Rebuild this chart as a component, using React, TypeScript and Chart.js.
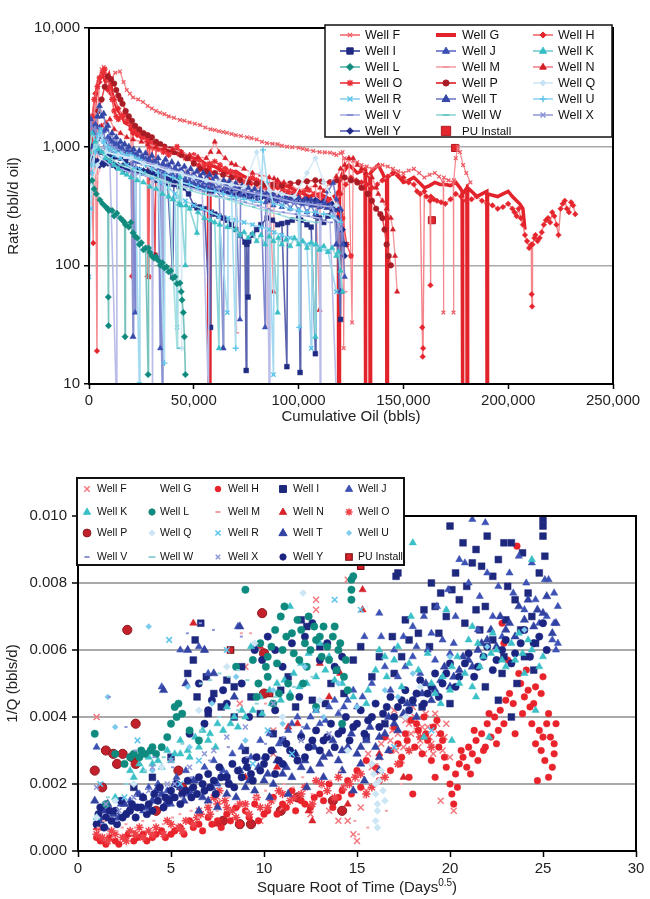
import React, { useEffect, useRef } from 'react';
import { Chart, registerables } from 'chart.js';
Chart.register(...registerables);

type P = [number, number];

// ---------------- TOP CHART DATA (Cumulative Oil, bbls  vs  Rate, bbl/d oil) ----------------
const rateTicks = [10, 100, 1000, 10000];
const cumMax = 250000;
const cumStep = 50000;

const topL: P[] = [[1500,520],[2500,440],[3500,400],[5200,356],[6500,330],[8000,310],[9000,300],[9200,54],[9300,31],[9400,290],[11000,290],[12000,260],[13300,275],[15000,250],[16000,240],[17000,230],[17200,25],[17400,220],[19000,210],[20000,230],[21000,188],[22000,175],[23000,170],[24000,150],[25000,155],[26000,135],[27000,140],[28200,12],[28400,140],[29000,129],[30000,120],[31000,115],[32000,118],[33000,110],[34000,100],[35000,105],[36000,95],[37000,97],[38000,88],[39000,90],[40000,78],[41000,80],[42000,70],[43400,71],[44000,60],[44400,51],[45000,40],[45500,25],[46000,12]];
const topK: P[] = [[0,900],[1500,1300],[3000,1100],[4500,950],[6000,900],[8000,800],[10000,750],[12000,700],[14000,650],[16000,600],[18000,580],[20000,550],[23000,520],[26000,500],[29000,460],[32000,440],[35000,400],[38000,380],[40000,360],[43000,330],[43400,550],[44000,320],[46000,100],[46300,320],[48000,300],[51500,188],[52000,280],[55000,250],[58000,240],[60000,230],[62000,20],[62300,220],[66000,210],[70000,200],[72000,180],[74000,190],[76000,170],[78000,185],[80000,160],[82000,180],[84000,150],[86000,175],[88000,160],[90000,40],[90300,170],[92000,150],[94000,165],[96000,145],[98000,170],[100000,150],[102000,160],[104000,140],[106000,155],[108000,25],[108300,150],[110000,135],[112000,145],[114000,130],[116000,140],[118000,120],[119000,130],[120000,90],[121000,60]];
const topW: P[] = [[0,700],[3000,1100],[6000,900],[10000,800],[15000,700],[20000,650],[26000,600],[32000,550],[38000,500],[42000,20],[42300,480],[48000,430],[54000,400],[60000,380],[66000,360],[72000,330],[78000,310],[84000,290],[90000,270],[96000,250],[102000,240],[108000,230]];
const topQ: P[] = [[0,400],[4000,700],[8000,900],[14000,850],[20000,800],[26000,720],[32000,680],[38000,620],[44000,600],[44200,20],[44400,580],[50000,550],[56000,520],[62000,500],[68000,480],[74000,460],[80000,900],[82000,600],[86000,430],[92000,400],[98000,380],[104000,600],[108000,800],[112000,500],[118000,320]];
const topU: P[] = [[0,300],[1500,600],[3000,900],[5000,1300],[7000,1100],[9000,1000],[11000,950],[13000,900],[15000,880],[18000,850],[20000,850],[22000,800],[24000,780],[27000,700],[30000,650],[33000,600],[36000,15],[36300,580],[40000,550],[44000,500],[48000,480],[52000,450],[56000,430],[60000,420],[64000,400],[68000,380],[70000,20],[70300,370],[74000,360],[78000,350],[82000,340],[83000,940],[85000,500],[88000,330],[92000,320],[96000,300],[100000,290],[100300,30],[100600,285],[104000,280],[108000,280],[112000,270],[116000,260],[120000,230]];
const topR: P[] = [[0,80],[1000,300],[2000,700],[3000,1000],[4000,1200],[5500,1400],[7000,1100],[9000,900],[12000,850],[15000,800],[18000,700],[22000,650],[24000,10],[24300,640],[26000,600],[30000,550],[34000,500],[38000,450],[41000,400],[42000,30],[42300,380],[46000,350],[50000,320],[54000,300],[58000,280],[62000,260],[66000,40],[66300,250],[70000,240],[74000,230],[78000,220],[82000,210],[86000,200],[88000,12],[88300,190],[92000,180],[96000,170],[100000,160],[104000,150],[106000,20],[106300,150],[110000,140],[114000,130],[118000,60]];
const topV: P[] = [[0,600],[3000,900],[6000,800],[10000,700],[13000,8],[13300,680],[15000,650],[20000,600],[25000,580],[30000,550],[30300,8],[30600,540],[36000,500],[42000,480],[48000,450],[54000,420],[57000,8],[57300,400],[62000,380],[68000,360],[74000,340],[80000,320],[85000,300],[86000,8],[86300,290],[92000,280],[98000,270],[104000,260],[110000,250],[110300,8],[110600,240],[115000,230],[118000,8]];
const topX: P[] = [[0,900],[4000,1000],[8000,950],[12000,900],[16000,850],[20000,800],[26000,750],[32000,700],[38000,650],[44000,600],[50000,560],[56000,520],[62000,480],[68000,450],[74000,420],[80000,400],[86000,380],[92000,360],[98000,340],[104000,330],[110000,320],[116000,310],[120000,200]];
const topJ: P[] = [[0,1100],[1000,1700],[2000,1300],[3000,1550],[4000,1150],[5000,1450],[6000,1200],[7000,1350],[8000,1050],[9000,1200],[10000,950],[11000,1100],[12000,900],[13000,1050],[14000,880],[15500,980],[17000,850],[18500,930],[20000,800],[21000,880],[22000,40],[22300,760],[23000,860],[24000,740],[25000,820],[26000,720],[27000,790],[28000,700],[29000,770],[30000,690],[31000,750],[32000,660],[33000,720],[34000,20],[34300,650],[35000,700],[36000,620],[37000,680],[38000,600],[39000,650],[40000,580],[41000,640],[42000,560],[43000,620],[44000,550],[45000,600],[46000,530],[47000,580],[48000,510],[49000,560],[50000,490],[51000,540],[52000,480],[53000,520],[54000,460],[55000,500],[56000,450],[57000,490],[58000,440],[59000,480],[60000,430],[62000,470],[64000,420],[66000,450],[68000,400],[70000,440],[72000,35],[72300,390],[74000,420],[76000,370],[78000,400],[80000,350],[82000,390],[84000,30],[84300,340],[86000,370],[88000,320],[90000,360],[92000,310],[94000,350],[96000,300],[98000,340],[100000,290],[102000,330],[104000,280],[106000,320],[108000,270],[110000,310],[112000,330],[114000,420],[116500,494],[118000,360],[120000,300],[121000,150],[122000,80]];
const topT: P[] = [[0,500],[1000,800],[2000,1000],[3000,1500],[4000,1800],[5000,2200],[6000,1800],[7000,1900],[8000,1400],[9000,1500],[10000,1150],[11000,1300],[12000,1050],[13000,1200],[14000,1000],[15000,1100],[16000,950],[17000,1050],[18000,900],[19000,1000],[20000,880],[21000,25],[21300,950],[22500,850],[24000,920],[25500,820],[27000,880],[28500,780],[30000,840],[31500,740],[33000,800],[35000,8],[35300,720],[36500,780],[38000,690],[39500,740],[41000,660],[42500,710],[44000,630],[45500,680],[47000,600],[48500,650],[50000,580],[51500,620],[53000,560],[54500,600],[56000,540],[57500,580],[59000,520],[60500,560],[62000,500],[64000,20],[64300,520],[65500,470],[67000,510],[68500,460],[70000,490],[71500,440],[73000,470],[74500,420],[76000,450],[77500,410],[79000,440],[80500,400],[82000,430],[83500,390],[85000,410],[86500,370],[88000,400],[89500,360],[91000,390],[92500,355],[94000,380],[95500,350],[97000,375],[98500,340],[100000,370],[101500,335],[103000,360],[104500,330],[106000,355],[107500,320],[109000,345],[110500,315],[112000,335],[113500,305],[115000,320],[117000,290],[118000,150],[119000,240],[120000,60]];
const topI: P[] = [[0,1000],[3000,950],[5000,900],[7500,880],[10000,850],[12500,820],[15000,800],[17500,750],[20000,700],[22000,650],[24000,620],[26000,610],[27700,600],[30000,550],[32500,520],[35000,500],[37500,490],[40000,80],[40500,480],[43000,460],[45000,450],[47500,400],[50000,320],[51500,305],[53000,310],[55000,300],[58000,30],[58300,280],[60000,270],[62000,260],[64000,250],[66000,240],[68000,220],[70000,200],[72000,180],[74400,157],[75000,13],[75300,150],[75900,54],[76200,160],[78000,180],[80000,200],[82000,220],[85000,250],[87500,240],[90000,220],[92000,225],[94400,14],[94700,230],[97000,240],[100000,250],[100700,12.5],[101000,240],[104000,220],[106000,210],[108000,18],[108300,260],[110000,250],[112000,230],[114000,260],[116000,300],[118000,250],[120000,35],[120300,200],[122000,150]];
const topY: P[] = [[0,820],[1000,760],[2000,790],[3000,730],[4000,760],[5000,690],[6000,730],[7000,700],[8000,760],[9000,720],[10000,770],[11000,700],[12000,720],[13000,670],[14000,700],[15000,660],[16000,690],[17000,640],[18000,670],[19000,630],[20000,660],[21000,620],[22000,650],[23000,610],[24000,640],[25000,600],[26000,630],[27000,590],[28000,620],[29000,580],[30000,610],[31000,570],[32000,600],[33000,560],[34000,590],[35000,550],[36000,575],[37000,540],[38000,560],[39000,520],[40000,545],[41000,510],[42000,535],[43000,500],[44000,525],[45000,495],[46000,510],[47000,480],[48000,500],[49000,465],[50000,485],[51000,455],[52000,470],[53000,445],[54000,460],[55000,435],[56000,450],[57000,425],[58000,445],[59000,420],[60000,440],[62000,415],[64000,430],[66000,405],[68000,420],[70000,395],[72000,410],[74000,385],[76000,400],[78000,375],[80000,390],[82000,368],[84000,380],[86000,355],[88000,370],[90000,350],[92000,365],[94000,345],[96000,362],[98000,348],[100000,360],[102000,345],[104000,358],[106000,342],[108000,356],[110000,335],[112000,345],[114000,320],[116000,330],[118000,300],[120000,290],[121000,200],[122000,120]];
const topM: P[] = [[0,300],[3000,500],[6000,700],[10000,900],[15000,850],[20000,800],[25000,750],[30000,700],[35000,680],[40000,650],[45000,620],[50000,600],[55000,580],[60000,550],[65000,520],[70000,500],[70200,27],[70400,480],[75000,470],[80000,450],[85000,420],[85200,30],[85400,420],[90000,400],[95000,380],[100000,365],[105000,350],[110000,335],[115000,320],[120000,200],[122000,60]];
const topN: P[] = [[500,600],[2000,900],[4000,1200],[6000,1500],[8000,1600],[10000,1700],[12000,1400],[15000,1300],[18000,1200],[21000,1150],[25000,1100],[28000,1050],[32000,1000],[36000,980],[40000,950],[44000,900],[48000,850],[52000,820],[56000,800],[58000,900],[60000,1100],[62000,900],[65000,800],[68000,720],[70000,700],[74000,650],[78000,600],[82000,580],[86000,550],[88000,60],[88300,540],[90000,520],[93000,500],[96000,480],[100000,430],[104000,450],[108000,470],[110000,42],[110300,450],[112000,420],[115000,500],[118000,560],[120000,650],[122000,700],[124000,800],[126000,800],[128000,700],[130000,650],[132000,600],[135000,550],[137000,450],[138000,400],[140000,350],[142000,300],[144000,250],[145000,200],[146000,120],[147000,60]];
const topP: P[] = [[0,700],[1500,1000],[3000,1500],[4500,2000],[6000,2500],[7500,3200],[9000,3900],[10500,3700],[12000,3400],[13000,3000],[14000,2700],[15000,2500],[16000,2300],[17500,2000],[19000,1800],[20500,1650],[22000,1500],[24000,1400],[26000,1300],[28000,1250],[30000,1200],[31500,122],[32000,1100],[34000,1050],[36000,1000],[38500,950],[41000,900],[44000,850],[47000,800],[50000,720],[53000,650],[56000,620],[60000,600],[64000,580],[68000,550],[72000,520],[76000,500],[80000,490],[84000,480],[88000,475],[92000,470],[96000,490],[100000,500],[104000,510],[108000,520],[111000,510],[115000,500],[118000,520],[122000,550],[125000,520],[128000,500],[130000,450],[133000,400],[135000,350],[137000,300],[139000,270],[140000,250],[141000,200],[142000,150],[143000,120],[144000,100]];
const topO: P[] = [[0,1000],[1500,1800],[2500,2500],[4000,3200],[5000,3800],[6500,4200],[7500,4500],[8500,3900],[10000,3200],[11000,2500],[12000,2000],[13000,1800],[14000,1700],[15500,1800],[17000,1900],[18500,1700],[20000,1500],[22000,1400],[24000,1300],[26000,1200],[28000,1100],[28500,80],[29000,1000],[31000,980],[33000,950],[35500,900],[38000,850],[40000,900],[42000,1000],[44000,900],[46000,800],[48000,820],[50000,850],[52500,780],[55000,700],[57500,720],[60000,750],[62500,700],[65000,650],[67500,620],[70000,600],[72000,550],[74000,500],[76000,520],[78000,550],[80000,520],[82000,500],[84000,470],[86000,450],[88000,470],[90000,500],[92500,450],[95000,420],[97500,410],[100000,400],[102500,420],[105000,430],[107500,400],[110000,380],[112000,360],[114000,350],[116000,320],[118000,300],[120000,270],[121000,250],[123000,150],[125000,120]];
const topH: P[] = [[1000,1200],[2000,154],[2500,1500],[3000,2800],[3800,19],[4200,2000],[5000,3500],[6000,3900],[7000,4200],[8000,3600],[9000,3000],[10500,2800],[12000,2500],[14000,2100],[16000,1800],[18000,1600],[20000,1400],[20500,81],[21000,1300],[23000,1250],[25000,1200],[27700,1100],[27900,81],[28100,1100],[30000,1050],[32500,1000],[35000,950],[37500,920],[40000,900],[42500,870],[45000,850],[47500,800],[50000,750],[52500,700],[55000,650],[57500,620],[60000,600],[62500,640],[65000,650],[67500,600],[70000,560],[72500,530],[75000,500],[77500,490],[80000,480],[82500,450],[85000,430],[87500,440],[90000,450],[92500,420],[95000,400],[97500,390],[100000,380],[102500,360],[105000,350],[107500,340],[110000,330],[112500,325],[115000,320],[117500,350],[120000,400],[122500,480],[125000,550],[127500,520],[130000,500],[132500,480],[135000,450],[137500,480],[140000,520],[142500,560],[145000,600],[147500,570],[150000,550],[152500,500],[155000,480],[156500,420],[158000,400],[159000,30],[159200,17],[159400,20],[160000,420],[161000,380],[162700,350],[162900,68],[163100,380],[164500,360],[166000,350],[168000,340],[170000,330],[172500,360],[175000,400],[177500,380],[180000,350],[182500,360],[185000,380],[187500,350],[190000,330],[192500,320],[195000,300],[197500,310],[200000,330],[202000,300],[203000,280],[204000,260],[205000,300],[206000,250],[207000,220],[208000,180],[209000,160],[210000,140],[211000,150],[211200,57],[211400,45],[211600,150],[212500,170],[213000,180],[214000,160],[215000,170],[216000,190],[217000,220],[218000,240],[219000,250],[220000,230],[221000,280],[222000,260],[223000,220],[224000,180],[225000,300],[226000,330],[227000,350],[228000,300],[229000,280],[230000,340],[231000,320],[232000,270]];
const topF: P[] = [[0,700],[1500,1400],[3000,2500],[4500,3500],[6000,4500],[7000,4700],[8000,4000],[9500,3600],[11000,3800],[12500,4200],[14800,4300],[16500,3500],[18000,3000],[19500,2800],[21000,2600],[23500,2500],[25800,2380],[28000,2200],[30000,2100],[32000,2000],[33900,1930],[36000,1880],[38000,1800],[40500,1750],[43400,1680],[45500,1650],[48000,1600],[50500,1560],[53000,1520],[55500,1450],[58000,1400],[60000,1380],[62000,1350],[64000,1330],[65800,1310],[68000,1280],[70000,1250],[72500,1230],[75400,1200],[77500,1180],[80000,1150],[82500,1100],[84900,1070],[87500,1060],[90000,1050],[92000,1020],[94500,1000],[97000,990],[100000,980],[102000,960],[104000,940],[107000,920],[110000,900],[112500,895],[115000,890],[117000,870],[118000,850],[120000,880],[121000,900],[121500,20],[122000,800],[124000,780],[125500,33],[126000,760],[128000,740],[130000,700],[132500,680],[135000,650],[137500,680],[140000,700],[142500,680],[145000,650],[147500,620],[150000,600],[152500,630],[155000,650],[157500,600],[160000,550],[162500,580],[165000,600],[167000,560],[169000,500],[169100,40],[169300,550],[171500,520],[173800,500],[173900,40],[174100,520],[175000,800],[176000,1000],[177000,900],[178500,700],[180000,600],[182000,500]];
const topG: P[] = [[0,600],[1000,1000],[2000,1600],[3000,2500],[4000,3200],[5000,3800],[6000,4100],[6500,4300],[7000,4000],[8000,3500],[9000,3800],[9500,4000],[10500,3300],[11000,2800],[12000,2500],[13000,2200],[14000,2000],[15000,1900],[16000,1800],[17000,1600],[18500,1550],[20000,1500],[21500,1400],[23000,1300],[24500,1250],[26000,1200],[28000,1150],[30000,1100],[32000,1080],[34000,1050],[36000,980],[38000,900],[40000,920],[42000,950],[44000,900],[46000,850],[48000,820],[50000,800],[52000,780],[54000,750],[55500,720],[57000,700],[57200,8],[57500,8],[57700,700],[60000,680],[62000,650],[64000,620],[66000,600],[68000,610],[70000,620],[72500,580],[75000,550],[77500,540],[80000,520],[82500,500],[85000,480],[87500,490],[90000,500],[92500,480],[95000,460],[97500,440],[100000,420],[102500,400],[105000,380],[107500,390],[110000,400],[112500,380],[115000,360],[117000,380],[119000,420],[119100,8],[119400,8],[119500,500],[121000,600],[122500,650],[124000,700],[126000,650],[128000,600],[130000,620],[131700,650],[131800,8],[132000,8],[132100,600],[133000,580],[134000,550],[134100,8],[134300,8],[134400,600],[136000,650],[138000,700],[140000,600],[142000,500],[142100,8],[142300,8],[142400,550],[144000,580],[146000,600],[148000,550],[150000,500],[152500,520],[155000,550],[157500,500],[160000,450],[162500,470],[165000,500],[167500,480],[170000,480],[172500,470],[175000,500],[177000,450],[178000,420],[178100,8],[178300,8],[178400,400],[179500,430],[180300,450],[180400,8],[180600,8],[180700,450],[182500,420],[185000,380],[187500,400],[189800,420],[189900,8],[190100,8],[190200,400],[192500,390],[195000,380],[197500,400],[200000,420],[202000,380],[204000,350],[205500,330],[207000,300],[208000,200]];
const topPU: P[] = [[110700,335],[119800,163],[163600,240],[174600,975]];

// ---------------- BOTTOM CHART DATA (sqrt time vs 1/Q) ----------------
const sqrtTimeMax = 30;
const sqrtTimeStep = 5;
const invQMax = 0.01;
const invQStep = 0.002;

const botF: P[] = [[1,.0040],[8.7,.0044],[9,.0055],[10.5,.0036],[10.5,.0029],[12.8,.0075],[12.8,.0072],[14.5,.0081],[15.5,.0018],[15.8,.0025],[16.2,.0028],[16.5,.0038],[16.8,.0033],[17,.0042],[17.2,.0035],[17.5,.0031],[17.8,.0038],[18,.0043],[18.2,.0036],[18.4,.0033],[18.6,.0029],[18.8,.0037],[19,.0032],[19.2,.0041],[19.4,.0035],[19.6,.0030],[19.8,.0038],[20,.0028],[19.5,.0015],[20.2,.0012],[14.8,.0005],[15,.0003],[14.5,.0009],[13.5,.0012],[11,.0013],[7.5,.0016],[6.5,.0012],[18.1,.0040],[18.9,.0034],[17.4,.0027],[17.1,.0030],[17.6,.0039],[18.3,.0031],[18.7,.0041],[19.1,.0029],[19.3,.0038],[19.7,.0034],[17.9,.0035],[18.5,.0037],[16.9,.0036],[16.3,.0032],[15.6,.0029],[15.2,.0013],[14.0,.0009],[12.5,.0011],[9.8,.0009]];
const botG: P[] = [];
const botH: P[] = [[1,.0004],[1.5,.0002],[2,.0003],[2.5,.0004],[3,.0003],[3.5,.0005],[4,.0004],[4.5,.0006],[5,.0005],[5.5,.0007],[6,.0009],[6.5,.0008],[7,.0010],[7.5,.0009],[8,.0011],[8.5,.0013],[9,.0012],[9.5,.0014],[10,.0011],[10.5,.0016],[11,.0014],[11.5,.0018],[12,.0015],[12.5,.0013],[13,.0017],[13.5,.0020],[14,.0016],[14.5,.0021],[15,.0024],[15.5,.0027],[16,.0025],[16.5,.0034],[16.8,.0030],[17.0,.0037],[17.2,.0032],[17.4,.0028],[17.6,.0035],[17.8,.0022],[17.9,.0039],[18.0,.0017],[18.1,.0031],[18.3,.0036],[18.5,.0029],[18.6,.0040],[18.8,.0033],[19.0,.0027],[19.1,.0037],[19.2,.0022],[19.4,.0031],[19.5,.0035],[19.7,.0028],[19.8,.0025],[20.0,.0020],[20.1,.0017],[20.2,.0014],[20.3,.0023],[20.5,.0026],[20.7,.0028],[20.9,.0025],[21.0,.0031],[21.2,.0029],[21.4,.0033],[21.5,.0027],[21.7,.0035],[21.9,.0031],[22.0,.0038],[22.2,.0034],[22.4,.0040],[22.6,.0036],[22.7,.0042],[22.8,.0068],[22.9,.0062],[23.0,.0045],[23.6,.0091],[23.8,.0050],[24.0,.0046],[24.1,.0054],[24.3,.0043],[24.4,.0038],[24.6,.0049],[24.8,.0036],[24.9,.0030],[25.0,.0052],[25.1,.0027],[25.3,.0041],[25.4,.0034],[25.5,.0025],[25.6,.0032],[25.7,.0038],[25.0,.0034],[24.7,.0021],[23.2,.0047],[1.2,.0003],[1.7,.0004],[2.2,.0002],[2.7,.0005],[3.2,.0004],[3.7,.0003],[4.2,.0005],[4.7,.0004],[5.2,.0006],[5.7,.0005],[6.2,.0007],[6.7,.0006],[7.2,.0008],[7.7,.0007],[8.2,.0009],[8.7,.0008],[9.2,.0010],[9.7,.0009],[10.2,.0012],[10.7,.0011],[11.2,.0013],[11.7,.0012],[12.2,.0014],[12.7,.0016],[13.2,.0015],[13.7,.0013],[14.2,.0018],[14.7,.0017],[15.2,.0019],[16.2,.0021],[16.8,.0024],[17.3,.0026],[17.7,.0033],[18.2,.0038],[18.7,.0035],[19.3,.0039],[19.6,.0033],[20.4,.0019],[20.6,.0030],[21.1,.0023],[21.3,.0036],[21.8,.0030],[22.1,.0041],[22.5,.0032],[22.9,.0038],[23.4,.0044],[23.9,.0041],[24.2,.0048],[24.5,.0044],[24.9,.0047],[25.2,.0038],[25.6,.0029],[25.3,.0022],[24.6,.0032],[23.7,.0053],[23.1,.0057],[23.5,.0035]];
const botI: P[] = [[6.6,.0068],[6.3,.0063],[6.2,.0057],[5.9,.0053],[6.4,.0046],[7.3,.0047],[8.0,.0051],[8.4,.0049],[7.0,.0041],[8.4,.0040],[9.8,.0041],[10.5,.0035],[12.0,.0069],[12.3,.0067],[13.0,.0061],[13.9,.0054],[14.8,.0057],[17.0,.0053],[17.1,.0082],[17.2,.0083],[17.4,.0058],[17.8,.0063],[18.3,.0065],[19.0,.0080],[19.2,.0073],[19.4,.0065],[20.0,.0097],[20.1,.0078],[20.5,.0075],[20.7,.0092],[21.4,.0090],[21.4,.0072],[21.7,.0085],[21.9,.0049],[22.3,.0082],[22.3,.0063],[22.6,.0045],[22.8,.0053],[22.9,.0092],[23.0,.0069],[23.3,.0092],[23.3,.0040],[23.5,.0075],[23.9,.0089],[24.2,.0077],[25.0,.0099],[25.0,.0097],[25.0,.0094],[24.6,.0062],[24.0,.0058],[3,.0019],[4,.0022],[5,.0028],[9,.0030],[11,.0033],[15.5,.0034],[16.5,.0038],[18.5,.0043],[20,.0044],[12.6,.0045],[13.6,.0050],[10.9,.0048],[19.5,.0077],[19.8,.0070],[20.3,.0083],[20.9,.0079],[21.2,.0086],[21.9,.0073],[22.0,.0094],[22.6,.0087],[23.1,.0079],[23.8,.0066],[24.4,.0070],[24.8,.0083],[25.1,.0088],[24.5,.0054],[23.6,.0050],[22.9,.0058],[21.6,.0066],[20.8,.0068],[18.6,.0072],[18.9,.0061],[17.6,.0069],[16.9,.0064],[16.2,.0058],[15.8,.0052],[15.2,.0061],[14.3,.0047],[13.3,.0044],[11.7,.0043],[11.3,.0052],[9.3,.0046],[8.8,.0055],[7.7,.0043],[6.9,.0052]];
const botJ: P[] = [[1,.0031],[1.2,.0010],[1.5,.0007],[2,.0009],[2.5,.0011],[3,.0013],[3.5,.0012],[4,.0015],[4.5,.0049],[5,.0014],[5.5,.0060],[6,.0017],[6.5,.0061],[6.8,.0060],[7,.0053],[7.5,.0020],[8,.0023],[8.6,.0067],[9,.0025],[9.5,.0061],[10,.0028],[10.5,.0030],[11,.0033],[11.5,.0038],[12,.0035],[12.5,.0040],[13,.0038],[13.5,.0043],[14,.0041],[14.5,.0045],[15,.0043],[15.4,.0064],[16.2,.0071],[16.3,.0064],[16.8,.0048],[17.2,.0052],[17.6,.0055],[18,.0058],[18.4,.0053],[18.8,.0060],[19.2,.0057],[19.6,.0063],[20,.0059],[20.5,.0087],[20.8,.0086],[21.2,.0099],[21.5,.0066],[21.9,.0098],[22.3,.0070],[22.8,.0064],[23.2,.0083],[23.7,.0088],[24.0,.0072],[24.4,.0086],[24.8,.0068],[25.1,.0081],[25.3,.0081],[25.5,.0063],[25.7,.0060],[25.8,.0073],[25.6,.0068],[1.7,.0012],[2.3,.0014],[2.8,.0015],[3.3,.0017],[3.8,.0019],[4.3,.0020],[4.8,.0018],[5.3,.0022],[5.8,.0024],[6.3,.0021],[6.8,.0025],[7.3,.0027],[7.8,.0024],[8.3,.0029],[8.8,.0031],[9.3,.0028],[9.8,.0033],[10.3,.0035],[10.8,.0032],[11.3,.0036],[11.8,.0040],[12.3,.0037],[12.8,.0042],[13.3,.0039],[13.8,.0045],[14.3,.0043],[14.8,.0048],[15.3,.0046],[15.8,.0050],[16.5,.0055],[17.0,.0060],[17.5,.0064],[18.0,.0067],[18.6,.0070],[19.3,.0073],[19.9,.0078],[20.3,.0070],[21.0,.0080],[21.6,.0076],[22.0,.0083],[22.6,.0079],[23.4,.0077],[24.1,.0080],[24.6,.0075],[25.2,.0070],[25.6,.0077],[25.8,.0062],[20.2,.0062],[19.0,.0065],[18.2,.0061]];
const botK: P[] = [[1,.0010],[2,.0016],[2.8,.0024],[3.3,.0026],[3.8,.0028],[4.3,.0027],[4.8,.0030],[5.2,.0029],[5.5,.0033],[5.9,.0030],[6.3,.0034],[6.7,.0036],[7.1,.0035],[7.5,.0038],[8.0,.0043],[8.4,.0040],[8.8,.0042],[9.3,.0061],[9.8,.0046],[10.3,.0048],[10.7,.0050],[11.1,.0051],[11.4,.0073],[11.6,.0053],[12.0,.0056],[12.4,.0059],[13.0,.0062],[13.5,.0058],[14.2,.0050],[14.8,.0046],[15.5,.0044],[16.2,.0060],[16.6,.0052],[17.0,.0057],[17.4,.0049],[17.9,.0070],[18.0,.0092],[18.3,.0054],[18.6,.0034],[19.2,.0047],[19.5,.0044],[19.8,.0072],[20.1,.0055],[20.1,.0033],[20.5,.0050],[20.8,.0053],[21.2,.0049],[21.2,.0067],[21.5,.0062],[21.8,.0058],[22.1,.0034],[22.3,.0065],[22.5,.0060],[23.0,.0055],[23.5,.0057],[23.7,.0065],[24.0,.0053],[24.4,.0087],[24.4,.0060],[24.6,.0042],[25.0,.0058],[3.0,.0022],[3.5,.0024],[4.0,.0026],[4.5,.0025],[5.0,.0027],[5.5,.0029],[6.0,.0028],[6.5,.0031],[7.0,.0033],[7.4,.0031],[7.8,.0036],[8.2,.0038],[8.6,.0037],[9.0,.0040],[9.4,.0042],[9.9,.0041],[10.4,.0044],[10.9,.0045],[11.4,.0047],[11.9,.0049],[12.3,.0050],[12.8,.0052],[13.3,.0054],[13.8,.0051],[16.5,.0058],[17.2,.0061],[17.8,.0056],[18.8,.0059],[19.6,.0052],[20.4,.0058],[21.0,.0063],[21.6,.0055],[22.2,.0059],[22.8,.0057],[23.3,.0062],[23.9,.0059],[24.2,.0063],[24.8,.0055],[19.0,.0050],[20.0,.0048],[21.4,.0046],[15.6,.0048],[16.0,.0054]];
const botL: P[] = [[0.9,.0035],[1.5,.0014],[2,.0029],[2.5,.0026],[3,.0029],[3.3,.0028],[3.6,.0029],[3.9,.0030],[4.2,.0029],[4.5,.0031],[4.8,.0034],[5,.0038],[5.2,.0043],[5.4,.0044],[5.6,.0041],[6,.0036],[6.5,.0033],[8.5,.0055],[9,.0078],[9.4,.0057],[9.8,.0062],[10.2,.0058],[10.6,.0066],[10.9,.0070],[11.1,.0073],[11.5,.0065],[11.8,.0069],[12.2,.0062],[12.5,.0060],[12.8,.0063],[13.1,.0058],[13.4,.0061],[13.7,.0064],[14,.0060],[14.3,.0052],[14.5,.0048],[14.7,.0081],[14.7,.0078],[14.7,.0075],[14.8,.0082],[13.8,.0067],[13.2,.0067],[12.3,.0055],[11.3,.0050],[10.8,.0047],[12.8,.0043],[14.2,.0038],[10.2,.0052],[9.6,.0046],[11.9,.0057],[9.7,.0050],[10.1,.0055],[10.4,.0061],[10.7,.0056],[11.0,.0060],[11.2,.0064],[11.6,.0059],[12.0,.0066],[12.4,.0070],[12.7,.0067],[13.0,.0064],[13.5,.0057],[13.9,.0054],[14.1,.0062],[14.4,.0057],[12.1,.0050],[11.4,.0046],[10.5,.0044],[4.0,.0031],[3.4,.0030],[2.8,.0028],[5.3,.0040]];
const botM: P[] = [[1,.0007],[1.5,.0005],[2,.0006],[2.5,.0008],[3,.0007],[4,.0009],[5,.0010],[6,.0012],[7,.0014],[8,.0016],[9,.0012],[10,.0018],[11,.0020],[12,.0022],[13,.0019],[14,.0024],[15,.0021],[15.5,.0007],[15.0,.0005],[14.8,.0009],[16,.0026],[10,.0044],[9.2,.0065],[8.7,.0065],[1.3,.0009],[1.8,.0004],[2.3,.0007],[2.8,.0005],[3.4,.0009],[3.9,.0006],[4.5,.0008],[5.4,.0011],[6.4,.0010],[7.4,.0012],[8.4,.0014],[9.5,.0016],[10.5,.0015],[11.5,.0019],[12.5,.0017],[13.5,.0021],[14.3,.0019],[15.3,.0016],[16.5,.0012],[17.3,.0020]];
const botN: P[] = [[6.2,.0068],[9.8,.0061],[11.8,.0038],[11.3,.0037],[12.6,.0009],[13.0,.0056],[14.0,.0060],[15.3,.0078],[15.3,.0072],[14.1,.0053],[13.5,.0046],[16.2,.0029],[17.5,.0022],[9.0,.0022],[7.5,.0008],[5.5,.0007],[3.0,.0005],[1.0,.0007],[12.4,.0012],[14.5,.0014],[10.7,.0025]];
const botO: P[] = [[1,.0005],[1.3,.0004],[1.6,.0003],[2,.0005],[2.4,.0004],[2.8,.0006],[3.1,.0005],[3.5,.0004],[3.8,.0006],[4.2,.0007],[4.6,.0005],[5,.0008],[5.4,.0007],[5.8,.0009],[6.2,.0008],[6.6,.0011],[7,.0013],[7.3,.0016],[7.6,.0018],[7.9,.0015],[8.3,.0012],[8.7,.0014],[9.2,.0011],[9.8,.0013],[10.4,.0015],[11,.0017],[11.6,.0016],[12.2,.0019],[12.8,.0021],[13.4,.0018],[14,.0022],[14.6,.0020],[15.2,.0023],[15.8,.0019],[16.5,.0022],[17.2,.0026],[17.8,.0030],[18.4,.0034],[19,.0031],[1.1,.0007],[1.8,.0006],[2.6,.0003],[3.3,.0007],[4.0,.0005],[4.8,.0009],[5.6,.0006],[6.4,.0010],[7.1,.0011],[7.5,.0014],[8.0,.0013],[8.5,.0010],[9.0,.0014],[9.6,.0016],[10.2,.0013],[10.8,.0018],[11.4,.0015],[12.0,.0017],[12.6,.0014],[13.1,.0020],[13.8,.0016],[14.3,.0019],[14.9,.0022],[15.5,.0017],[16.1,.0024]];
const botP: P[] = [[0.9,.0024],[1.3,.0019],[1.5,.0030],[1.9,.0029],[2.1,.0026],[2.4,.0029],[2.65,.0066],[2.9,.0028],[3.1,.0038],[3.1,.0026],[5.4,.0024],[5.6,.0019],[8.7,.0008],[9.3,.0008],[9.9,.0071],[10.0,.0059],[10.0,.0047],[10.9,.0012],[11.8,.0016],[13.7,.0015],[14.2,.0012],[7.8,.0009],[4.2,.0012]];
const botQ: P[] = [[15.8,.0026],[15.9,.0023],[16.0,.0020],[16.0,.0017],[16.1,.0014],[16.1,.0012],[16.0,.0009],[16.1,.0007],[16.2,.0021],[16.3,.0024],[16.4,.0018],[16.5,.0015],[12.1,.0077],[17.6,.0040],[9.5,.0062],[8,.0055],[6.5,.0042],[4.5,.0025],[3,.0020],[2,.0015],[1,.0010],[14.5,.0030],[13,.0045],[11,.0040],[18.4,.0049]];
const botR: P[] = [[4.9,.0063],[8,.0060],[3.2,.0033],[1.2,.0020],[6.5,.0027],[10.2,.0036],[12.8,.0042],[15.2,.0072],[13.8,.0075],[11.5,.0029],[9.4,.0026],[5.5,.0020],[2.5,.0016],[17,.0031],[19,.0036]];
const botU: P[] = [[3.8,.0067],[1.6,.0046],[2,.0037],[5.9,.0049],[7.2,.0044],[8.5,.0052],[10.5,.0048],[12.2,.0055],[14,.0050],[16.5,.0048],[18,.0053],[20,.0058],[22,.0061],[24,.0066],[6,.0031],[4,.0024],[9,.0033],[11,.0038],[13.2,.0040],[15,.0043],[17.2,.0046]];
const botV: P[] = [[1.6,.0046],[2.5,.0037],[5.8,.0065],[6.5,.0068],[7.2,.0066],[8.7,.0064],[3,.0030],[4,.0028],[5,.0025],[6,.0022],[7,.0027],[8,.0031],[9,.0028],[10,.0032],[11,.0034],[12,.0037],[13,.0040],[14,.0042],[7.5,.0019],[5.5,.0016],[3.5,.0012],[2,.0009]];
const botW: P[] = [[6.5,.0050],[7,.0051],[7.5,.0053],[8,.0052],[8.5,.0054],[9,.0051],[4.5,.0028],[5.5,.0032],[6.5,.0036],[7.5,.0040],[8.5,.0042],[9.5,.0044],[10.5,.0046],[11.5,.0049],[12.5,.0052],[3.5,.0024],[2.5,.0020],[1.5,.0016]];
const botX: P[] = [[1,.0019],[1.5,.0014],[2.2,.0012],[3,.0016],[3.8,.0018],[4.8,.0020],[5.2,.0020],[6,.0025],[6.8,.0029],[7.3,.0030],[8,.0034],[9,.0037],[4,.0025],[5,.0027],[10.5,.0044],[12,.0033],[13.5,.0035]];
const botT: P[] = [[0.9,.0015],[1.4,.0012],[1.9,.0011],[2.5,.0014],[3.0,.0013],[3.5,.0016],[4.0,.0015],[4.5,.0017],[5.0,.0016],[5.5,.0019],[6.0,.0018],[6.5,.0012],[7.0,.0015],[7.5,.0013],[8.0,.0017],[8.5,.0016],[9.0,.0019],[9.5,.0018],[10.0,.0021],[10.5,.0020],[11.0,.0023],[11.5,.0022],[12.0,.0025],[12.5,.0024],[13.0,.0026],[13.5,.0029],[14.0,.0027],[14.5,.0031],[15.0,.0029],[15.5,.0033],[16.0,.0031],[16.5,.0035],[17.0,.0038],[17.5,.0041],[18.0,.0044],[18.5,.0047],[19.0,.0045],[19.5,.0051],[20.0,.0049],[20.5,.0054],[21.0,.0057],[21.5,.0060],[22.0,.0063],[22.5,.0061],[23.0,.0066],[23.5,.0064],[24.0,.0069],[24.5,.0067],[25.0,.0071],[25.5,.0065],[5.9,.0060],[5.8,.0050],[6.8,.0060],[4.6,.0048],[8.7,.0067],[7.3,.0053],[8.4,.0046],[15.4,.0021],[16.2,.0024],[14.8,.0018],[1.2,.0009],[1.6,.0014],[2.2,.0010],[2.7,.0012],[3.2,.0017],[3.7,.0013],[4.2,.0018],[4.7,.0014],[5.2,.0020],[5.7,.0015],[6.2,.0021],[6.7,.0016],[7.2,.0019],[7.7,.0022],[8.2,.0020],[8.7,.0024],[9.2,.0021],[9.7,.0025],[10.2,.0023],[10.7,.0027],[11.2,.0025],[11.7,.0029],[12.2,.0027],[12.7,.0031],[13.2,.0028],[13.7,.0033],[14.2,.0030],[14.7,.0035],[15.2,.0031],[15.7,.0037],[16.2,.0034],[16.7,.0040],[17.2,.0036],[17.7,.0044],[18.2,.0040],[18.7,.0050],[19.2,.0048],[19.7,.0055],[20.2,.0052],[20.7,.0058],[21.2,.0055],[21.7,.0062],[22.2,.0066],[22.7,.0070],[23.2,.0068],[23.7,.0073],[24.2,.0075],[24.7,.0072],[25.2,.0076],[25.7,.0068],[13.2,.0022],[14.2,.0024],[15.2,.0026],[16.2,.0028],[16.7,.0030],[12.3,.0019],[11.3,.0017],[10.3,.0016]];
const botY: P[] = [[1,.0008],[1.2,.0013],[1.5,.0010],[1.8,.0009],[2,.0012],[2.3,.0015],[2.6,.0011],[2.9,.0014],[3.2,.0013],[3.5,.0016],[3.8,.0014],[4.1,.0017],[4.4,.0019],[4.7,.0016],[5,.0018],[5.3,.0020],[5.6,.0017],[5.9,.0021],[6.2,.0019],[6.5,.0022],[6.8,.0018],[7,.0023],[7.3,.0021],[7.6,.0025],[8,.0022],[8.3,.0026],[8.6,.0024],[9,.0027],[9.3,.0023],[9.6,.0028],[10,.0026],[10.4,.0030],[10.8,.0027],[11.2,.0032],[11.6,.0029],[12,.0034],[12.4,.0031],[12.8,.0036],[13.2,.0033],[13.6,.0038],[14,.0035],[14.4,.0040],[14.8,.0037],[15.2,.0042],[15.6,.0039],[16,.0044],[16.4,.0041],[16.8,.0046],[17.2,.0043],[17.6,.0048],[18,.0045],[18.4,.0051],[18.8,.0047],[19.2,.0053],[19.6,.0050],[20,.0056],[20.5,.0052],[21,.0059],[21.5,.0055],[22,.0061],[22.5,.0057],[23,.0063],[23.5,.0059],[24,.0066],[24.5,.0062],[25,.0068],[6.5,.0050],[7.2,.0045],[7.8,.0048],[9.5,.0060],[10.2,.0064],[11,.0055],[12.6,.0068],[13.4,.0062],[14.2,.0058],[1.1,.0011],[1.4,.0007],[1.7,.0012],[2.1,.0008],[2.4,.0010],[2.8,.0012],[3.1,.0010],[3.4,.0013],[3.7,.0011],[4.0,.0012],[4.3,.0015],[4.6,.0013],[4.9,.0015],[5.2,.0016],[5.5,.0014],[5.8,.0018],[6.1,.0016],[6.4,.0017],[6.7,.0020],[7.1,.0019],[7.4,.0017],[7.7,.0022],[8.1,.0020],[8.4,.0019],[8.8,.0022],[9.1,.0025],[9.4,.0021],[9.8,.0024],[10.1,.0028],[10.6,.0023],[11,.0026],[11.4,.0030],[11.8,.0027],[12.2,.0028],[12.6,.0033],[13,.0030],[13.4,.0034],[13.8,.0031],[14.2,.0036],[14.6,.0033],[15,.0038],[15.4,.0035],[15.8,.0040],[16.2,.0037],[16.6,.0043],[17,.0040],[17.4,.0045],[17.8,.0042],[18.2,.0047],[18.6,.0044],[19,.0049],[19.4,.0046],[19.8,.0053],[20.3,.0049],[20.8,.0056],[21.3,.0052],[21.8,.0058],[22.3,.0054],[22.8,.0060],[23.3,.0056],[23.8,.0062],[24.3,.0058],[24.8,.0064],[25.2,.0060],[7,.0042],[8,.0044],[8.8,.0050],[9.9,.0057],[10.6,.0060],[11.5,.0062],[12.2,.0064],[13,.0057],[13.8,.0055],[6.0,.0035],[6.8,.0038],[9.2,.0040],[10.6,.0042],[11.9,.0046]];
const botPU: P[] = [[15.2,.0085],[8.2,.0060],[10.3,.0047]];

// ---------------- STYLES ----------------
type St = { line?: string; lw?: number; ps?: string | false; r: number; fill: string; stroke?: string; bw?: number };
const topStyle: Record<string, St> = {
  F: { line: '#f4868c', lw: 1.2, ps: 'crossRot', r: 2.6, fill: '#ee5a62', bw: 1.2 },
  G: { line: '#e3232b', lw: 3.5, ps: false, r: 0, fill: '#e3232b' },
  H: { line: '#f3858b', lw: 1.4, ps: 'rectRot', r: 2.8, fill: '#e5252d' },
  I: { line: '#5a63ad', lw: 1.6, ps: 'rect', r: 3.4, fill: '#1f2a80' },
  J: { line: '#7f88cf', lw: 1.6, ps: 'triangle', r: 3.2, fill: '#3b50b2' },
  K: { line: '#8fd6da', lw: 1.6, ps: 'triangle', r: 3.2, fill: '#38bec5' },
  L: { line: '#78c3bc', lw: 1.6, ps: 'rectRot', r: 3.2, fill: '#118a7e' },
  M: { line: '#f6b3b8', lw: 1.2, ps: 'dash', r: 3, fill: '#f08f97', bw: 1.5 },
  N: { line: '#f29ca2', lw: 1.4, ps: 'triangle', r: 3, fill: '#d41f28' },
  O: { line: '#f0575e', lw: 1.5, ps: 'star', r: 3, fill: '#ea2f37', bw: 1.3 },
  P: { line: '#e8474e', lw: 1.5, ps: 'circle', r: 2.8, fill: '#a91c25' },
  Q: { line: '#d8ecf7', lw: 1.6, ps: 'rectRot', r: 2.8, fill: '#c8e4f4' },
  R: { line: '#a2d9f0', lw: 1.6, ps: 'crossRot', r: 3, fill: '#56c2ea', bw: 1.4 },
  T: { line: '#8c94d2', lw: 1.6, ps: 'triangle', r: 3.6, fill: '#3446a6' },
  U: { line: '#a9ddf1', lw: 1.6, ps: 'cross', r: 3, fill: '#5ec4ea', bw: 1.4 },
  V: { line: '#b9bde8', lw: 1.6, ps: 'dash', r: 3, fill: '#7c85cf', bw: 1.6 },
  W: { line: '#a6dfe0', lw: 1.6, ps: 'dash', r: 3, fill: '#5fc4c6', bw: 1.6 },
  X: { line: '#aab1e1', lw: 1.6, ps: 'crossRot', r: 3, fill: '#8792d6', bw: 1.4 },
  Y: { line: '#7a82c6', lw: 1.6, ps: 'rectRot', r: 3, fill: '#1e2a86' },
  PU: { ps: 'rect', r: 5, fill: '#e3262d', stroke: '#b01a20', bw: 1 },
};
const botStyle: Record<string, St> = {
  F: { ps: 'crossRot', r: 4.2, fill: '#f4787f', bw: 1.5 },
  G: { ps: false, r: 0, fill: '#e3232b' },
  H: { ps: 'circle', r: 3.3, fill: '#e8232b' },
  I: { ps: 'rect', r: 4.8, fill: '#1e287c' },
  J: { ps: 'triangle', r: 4.2, fill: '#3d52b4' },
  K: { ps: 'triangle', r: 4.2, fill: '#3ac0c7' },
  L: { ps: 'circle', r: 3.7, fill: '#0f8a7f' },
  M: { ps: 'dash', r: 3, fill: '#f4a1a8', bw: 2 },
  N: { ps: 'triangle', r: 4.2, fill: '#d7232c' },
  O: { ps: 'star', r: 4.2, fill: '#ef4149', bw: 1.5 },
  P: { ps: 'circle', r: 4.6, fill: '#c2212b', stroke: '#8e1a20', bw: 1 },
  Q: { ps: 'rectRot', r: 3.6, fill: '#cde6f5' },
  R: { ps: 'crossRot', r: 4, fill: '#5bc3ec', bw: 1.5 },
  T: { ps: 'triangle', r: 4.8, fill: '#3242a2' },
  U: { ps: 'rectRot', r: 3, fill: '#7ccbec' },
  V: { ps: 'dash', r: 3, fill: '#8d94d8', bw: 2 },
  W: { ps: 'dash', r: 4, fill: '#8fd3d6', bw: 2 },
  X: { ps: 'crossRot', r: 3.5, fill: '#9099d8', bw: 1.5 },
  Y: { ps: 'circle', r: 3.7, fill: '#1b2581' },
  PU: { ps: 'rect', r: 4.5, fill: '#d8222b', stroke: '#7a1016', bw: 1.2 },
};

const topData: Record<string, P[]> = { F: topF, G: topG, H: topH, I: topI, J: topJ, K: topK, L: topL, M: topM, N: topN, O: topO, P: topP, Q: topQ, R: topR, T: topT, U: topU, V: topV, W: topW, X: topX, Y: topY, PU: topPU };
const botData: Record<string, P[]> = { F: botF, G: botG, H: botH, I: botI, J: botJ, K: botK, L: botL, M: botM, N: botN, O: botO, P: botP, Q: botQ, R: botR, T: botT, U: botU, V: botV, W: botW, X: botX, Y: botY, PU: botPU };

const legendKeys = ['F','G','H','I','J','K','L','M','N','O','P','Q','R','T','U','V','W','X','Y','PU'];
const topDrawOrder = ['L','K','W','Q','U','R','V','X','J','T','I','Y','M','N','P','O','H','F','G','PU'];
const botDrawOrder = ['Q','W','V','X','U','R','M','L','K','Y','T','J','I','O','N','H','F','P','G','PU'];
const labelOf = (k: string) => (k === 'PU' ? 'PU Install' : 'Well ' + k);

const FONT = '"Liberation Sans", Arial, Helvetica, sans-serif';
const NARROW = '"Liberation Sans Narrow", "Liberation Sans", Arial, sans-serif';

function mark(ctx: CanvasRenderingContext2D, s: St, x: number, y: number, scale = 1) {
  if (!s.ps || s.r <= 0) return;
  const r = s.r * scale;
  ctx.save();
  ctx.fillStyle = s.fill;
  ctx.strokeStyle = s.stroke || s.fill;
  ctx.lineWidth = s.bw ?? 1;
  ctx.beginPath();
  switch (s.ps) {
    case 'circle': ctx.arc(x, y, r, 0, Math.PI * 2); ctx.fill(); ctx.stroke(); break;
    case 'rect': { const h = r * Math.SQRT1_2 * 1.2; ctx.rect(x - h, y - h, 2 * h, 2 * h); ctx.fill(); ctx.stroke(); break; }
    case 'rectRot': ctx.moveTo(x, y - r); ctx.lineTo(x + r, y); ctx.lineTo(x, y + r); ctx.lineTo(x - r, y); ctx.closePath(); ctx.fill(); ctx.stroke(); break;
    case 'triangle': ctx.moveTo(x, y - r * 1.1); ctx.lineTo(x + r, y + r * 0.65); ctx.lineTo(x - r, y + r * 0.65); ctx.closePath(); ctx.fill(); ctx.stroke(); break;
    case 'crossRot': { const d = r * 0.75; ctx.moveTo(x - d, y - d); ctx.lineTo(x + d, y + d); ctx.moveTo(x + d, y - d); ctx.lineTo(x - d, y + d); ctx.stroke(); break; }
    case 'cross': ctx.moveTo(x - r, y); ctx.lineTo(x + r, y); ctx.moveTo(x, y - r); ctx.lineTo(x, y + r); ctx.stroke(); break;
    case 'star': { const d = r * 0.75; ctx.moveTo(x - r, y); ctx.lineTo(x + r, y); ctx.moveTo(x, y - r); ctx.lineTo(x, y + r); ctx.moveTo(x - d, y - d); ctx.lineTo(x + d, y + d); ctx.moveTo(x + d, y - d); ctx.lineTo(x - d, y + d); ctx.stroke(); break; }
    case 'dash': ctx.moveTo(x - r, y); ctx.lineTo(x + r, y); ctx.stroke(); break;
  }
  ctx.restore();
}

function makeDatasets(order: string[], data: Record<string, P[]>, style: Record<string, St>, lines: boolean) {
  return order.map((k) => {
    const s = style[k];
    const strokeOnly = s.ps === 'crossRot' || s.ps === 'cross' || s.ps === 'star' || s.ps === 'dash';
    return {
      label: labelOf(k),
      data: data[k].map(([x, y]) => ({ x, y })),
      showLine: lines && !!s.line,
      borderColor: s.line || s.fill,
      borderWidth: s.lw ?? 1,
      pointStyle: s.ps || 'circle',
      pointRadius: s.ps ? s.r : 0,
      pointBackgroundColor: s.fill,
      pointBorderColor: s.stroke || s.fill,
      pointBorderWidth: strokeOnly ? (s.bw ?? 1.3) : (s.bw ?? 0.5),
      tension: 0,
    };
  });
}

const tickFont = { family: FONT, size: 15 };

function topConfig(): any {
  const framePlugin = {
    id: 'topDecor',
    afterDraw(chart: any) {
      const { ctx, chartArea: a } = chart;
      ctx.save();
      ctx.strokeStyle = '#000';
      ctx.lineWidth = 2;
      ctx.strokeRect(a.left, a.top, a.right - a.left, a.bottom - a.top);
      ctx.fillStyle = '#222';
      ctx.font = `15px ${FONT}`;
      ctx.textAlign = 'center';
      ctx.textBaseline = 'middle';
      ctx.fillText('Cumulative Oil (bbls)', (a.left + a.right) / 2, 417);
      ctx.translate(14, (a.top + a.bottom) / 2);
      ctx.rotate(-Math.PI / 2);
      ctx.fillText('Rate (bbl/d oil)', 0, 0);
      ctx.restore();
      ctx.save();
      ctx.fillStyle = '#fff';
      ctx.fillRect(325, 25, 287, 112);
      ctx.strokeStyle = '#111';
      ctx.lineWidth = 1.5;
      ctx.strokeRect(325, 25, 287, 112);
      const colLine = [340, 436, 533];
      const colText = [365, 462, 558];
      legendKeys.forEach((k, i) => {
        const c = i % 3, r = Math.floor(i / 3);
        const y = 35 + r * 16;
        const s = topStyle[k];
        if (s.line) {
          ctx.strokeStyle = s.line;
          ctx.lineWidth = k === 'G' ? 4 : 2;
          ctx.beginPath();
          ctx.moveTo(colLine[c], y);
          ctx.lineTo(colLine[c] + 20, y);
          ctx.stroke();
        }
        mark(ctx, s, colLine[c] + 10, y, 1.1);
        ctx.fillStyle = '#111';
        ctx.textAlign = 'left';
        ctx.textBaseline = 'middle';
        ctx.font = k === 'PU' ? `11.5px ${NARROW}` : `12.5px ${FONT}`;
        ctx.fillText(labelOf(k), colText[c], y + 0.5);
      });
      ctx.restore();
    },
  };
  return {
    type: 'scatter',
    data: { datasets: makeDatasets(topDrawOrder, topData, topStyle, true) },
    options: {
      responsive: false,
      animation: false,
      events: [],
      layout: { padding: { top: 28, right: 37, bottom: 12, left: 0 } },
      plugins: { legend: { display: false }, tooltip: { enabled: false } },
      scales: {
        x: {
          type: 'linear', min: 0, max: cumMax,
          afterFit: (s: any) => { s.height = 44; },
          ticks: { stepSize: cumStep, color: '#222', font: tickFont, padding: 3, maxRotation: 0, callback: (v: any) => Number(v).toLocaleString('en-US') },
          grid: { drawOnChartArea: false, tickColor: '#000', tickLength: 5, tickWidth: 1.5 },
          border: { display: false },
        },
        y: {
          type: 'logarithmic', min: 10, max: 10000,
          afterFit: (s: any) => { s.width = 89; },
          afterBuildTicks: (s: any) => { s.ticks = rateTicks.map((v) => ({ value: v })); },
          ticks: { color: '#222', font: tickFont, padding: 4, callback: (v: any) => Number(v).toLocaleString('en-US') },
          grid: {
            color: (c: any) => (c.tick && (c.tick.value === 100 || c.tick.value === 1000) ? '#a9a9a9' : 'rgba(0,0,0,0)'),
            lineWidth: 1.5, tickColor: '#000', tickLength: 5, tickWidth: 1.5,
          },
          border: { display: false },
        },
      },
    },
    plugins: [framePlugin],
  };
}

function botConfig(): any {
  const decor = {
    id: 'botDecor',
    afterDraw(chart: any) {
      const { ctx, chartArea: a } = chart;
      ctx.save();
      ctx.strokeStyle = '#000';
      ctx.lineWidth = 2;
      ctx.strokeRect(a.left, a.top, a.right - a.left, a.bottom - a.top);
      ctx.fillStyle = '#222';
      ctx.textBaseline = 'alphabetic';
      const main = 'Square Root of Time (Days';
      const sup = '0.5';
      const end = ')';
      ctx.font = `15px ${FONT}`;
      const w1 = ctx.measureText(main).width;
      const w3 = ctx.measureText(end).width;
      ctx.font = `10px ${FONT}`;
      const w2 = ctx.measureText(sup).width;
      let x = (a.left + a.right) / 2 - (w1 + w2 + w3) / 2;
      const base = 452;
      ctx.textAlign = 'left';
      ctx.font = `15px ${FONT}`;
      ctx.fillText(main, x, base);
      x += w1;
      ctx.font = `10px ${FONT}`;
      ctx.fillText(sup, x, base - 6);
      x += w2;
      ctx.font = `15px ${FONT}`;
      ctx.fillText(end, x, base);
      ctx.textAlign = 'center';
      ctx.textBaseline = 'middle';
      ctx.translate(13, (a.top + a.bottom) / 2);
      ctx.rotate(-Math.PI / 2);
      ctx.fillText('1/Q (bbls/d)', 0, 0);
      ctx.restore();
      ctx.save();
      ctx.fillStyle = '#fff';
      ctx.fillRect(77, 38, 327, 87);
      ctx.strokeStyle = '#111';
      ctx.lineWidth = 2;
      ctx.strokeRect(77, 38, 327, 87);
      const colMark = [87, 152, 218, 283, 349];
      const colText = [97, 160, 228, 293, 358];
      const rowY = [49, 72, 93, 117];
      legendKeys.forEach((k, i) => {
        const c = i % 5, r = Math.floor(i / 5);
        const y = rowY[r];
        mark(ctx, botStyle[k], colMark[c], y, 0.85);
        ctx.fillStyle = '#111';
        ctx.textAlign = 'left';
        ctx.textBaseline = 'middle';
        ctx.font = k === 'PU' ? `10.5px ${NARROW}` : `10.5px ${FONT}`;
        ctx.fillText(labelOf(k), colText[c], y + 0.5);
      });
      ctx.restore();
    },
  };
  return {
    type: 'scatter',
    data: { datasets: makeDatasets(botDrawOrder, botData, botStyle, false) },
    options: {
      responsive: false,
      animation: false,
      events: [],
      layout: { padding: { top: 76, right: 14, bottom: 0, left: 0 } },
      plugins: { legend: { display: false }, tooltip: { enabled: false } },
      scales: {
        x: {
          type: 'linear', min: 0, max: sqrtTimeMax,
          afterFit: (s: any) => { s.height = 48; },
          ticks: { stepSize: sqrtTimeStep, color: '#222', font: tickFont, padding: 3, maxRotation: 0 },
          grid: { drawOnChartArea: false, tickColor: '#000', tickLength: 6, tickWidth: 1.5 },
          border: { display: false },
        },
        y: {
          type: 'linear', min: 0, max: invQMax,
          afterFit: (s: any) => { s.width = 78; },
          ticks: { stepSize: invQStep, color: '#222', font: tickFont, padding: 5, callback: (v: any) => Number(v).toFixed(3) },
          grid: {
            color: (c: any) => (c.tick && c.tick.value > 0.0001 && c.tick.value < 0.0099 ? '#a9a9a9' : 'rgba(0,0,0,0)'),
            lineWidth: 2, tickColor: '#000', tickLength: 6, tickWidth: 1.5,
          },
          border: { display: false },
        },
      },
    },
    plugins: [decor],
  };
}

export default function App() {
  const topRef = useRef<HTMLCanvasElement>(null);
  const botRef = useRef<HTMLCanvasElement>(null);
  useEffect(() => {
    Chart.defaults.font.family = FONT;
    const c1 = new Chart(topRef.current as HTMLCanvasElement, topConfig());
    const c2 = new Chart(botRef.current as HTMLCanvasElement, botConfig());
    return () => { c1.destroy(); c2.destroy(); };
  }, []);
  return (
    <div style={{ position: 'absolute', left: 0, top: 0, width: 650, height: 899, background: '#fff' }}>
      <canvas ref={topRef} width={650} height={440} style={{ position: 'absolute', left: 0, top: 0, width: 650, height: 440 }} />
      <canvas ref={botRef} width={650} height={459} style={{ position: 'absolute', left: 0, top: 440, width: 650, height: 459 }} />
    </div>
  );
}
